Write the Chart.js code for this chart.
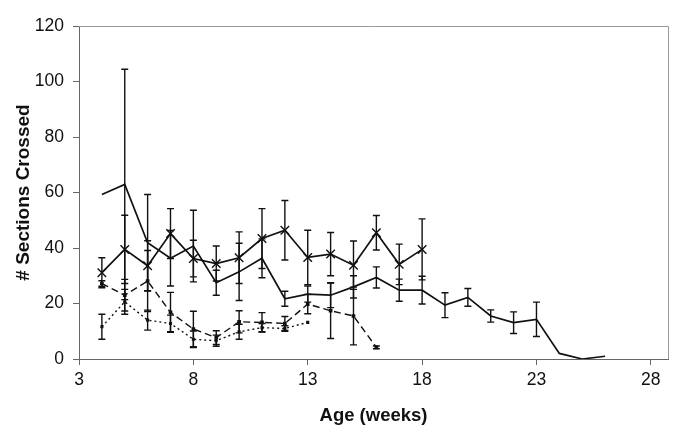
<!DOCTYPE html>
<html>
<head>
<meta charset="utf-8">
<script src="https://cdn.jsdelivr.net/npm/chart.js@4"></script>
<style>
html,body{margin:0;padding:0;background:#fff;}
#wrap{width:685px;height:438px;}
</style>
</head>
<body>
<div id="wrap"><canvas id="c" width="685" height="438"></canvas></div>
<script>
// ---- data ----
const xTickValues = [3, 8, 13, 18, 23, 28];

const weeksSolid = [4,5,6,7,8,9,10,11,12,13,14,15,16,17,18,19,20,21,22,23,24,25,26];
const solidMean  = [59.3,62.9,41.9,36.3,40.7,27.5,31.4,36.3,21.7,23.4,23.0,26.0,29.4,24.8,24.8,19.4,22.2,15.5,13.1,14.3,2.0,0.0,1.0];
const solidErr   = [0,41.5,17.4,10.0,12.9,4.5,10.3,7.0,2.7,2.9,4.5,4.0,3.8,4.0,5.0,4.5,3.2,2.2,3.9,6.2,0,0,0];

const weeksCross = [4,5,6,7,8,9,10,11,12,13,14,15,16,17,18];
const crossMean  = [31.1,39.5,33.6,45.2,36.2,34.4,36.5,43.4,46.4,36.6,37.8,33.8,45.5,34.1,39.5];
const crossErr   = [5.4,12.3,9.0,9.0,6.6,6.3,9.3,10.8,10.7,9.8,7.8,8.7,6.2,7.3,11.0];

const weeksDash = [4,5,6,7,8,9,10,11,12,13,14,15,16];
const dashMean  = [27.2,23.0,28.1,16.8,10.8,7.7,13.4,13.2,12.8,19.8,17.4,15.5,4.2];
const dashErr   = [1.0,5.7,11.0,7.2,6.4,2.5,4.0,3.5,2.5,3.5,10.0,10.4,0.5];

const weeksDot = [4,5,6,7,8,9,10,11,12,13];
const dotMean  = [11.6,20.6,14.0,12.8,7.1,6.6,9.8,11.3,11.0,13.2];
const dotErr   = [4.5,4.5,3.6,3.0,3.0,2.0,2.7,1.5,1.0,0];

function pts(xs, ys){ return xs.map((x,i)=>({x:x, y:ys[i]})); }

const errorBars = {
  id: 'errorBars',
  beforeDatasetsDraw(chart){
    const ctx = chart.ctx, xs = chart.scales.x, ys = chart.scales.y;
    ctx.save();
    ctx.strokeStyle = '#111';
    ctx.lineWidth = 1.4;
    chart.data.datasets.forEach(ds=>{
      if(!ds.err) return;
      ds.data.forEach((p,i)=>{
        const e = ds.err[i];
        if(!e) return;
        const px = xs.getPixelForValue(p.x);
        const top = ys.getPixelForValue(p.y + e);
        const bot = ys.getPixelForValue(Math.max(p.y - e, 0));
        ctx.beginPath();
        ctx.moveTo(px, top); ctx.lineTo(px, bot);
        ctx.moveTo(px-3.5, top); ctx.lineTo(px+3.5, top);
        ctx.moveTo(px-3.5, bot); ctx.lineTo(px+3.5, bot);
        ctx.stroke();
      });
    });
    ctx.restore();
  }
};

const frame = {
  id: 'frame',
  afterDraw(chart){
    const a = chart.chartArea, ctx = chart.ctx;
    ctx.save();
    ctx.strokeStyle = '#9a9a9a';
    ctx.lineWidth = 1;
    ctx.beginPath();
    ctx.moveTo(a.left, a.top+0.5); ctx.lineTo(a.right+0.5, a.top+0.5);
    ctx.lineTo(a.right+0.5, a.bottom);
    ctx.stroke();
    ctx.restore();
  }
};

const font = "'Liberation Sans', Arial, sans-serif";

new Chart(document.getElementById('c'), {
  type: 'scatter',
  data: {
    datasets: [
      { data: pts(weeksSolid, solidMean), err: solidErr, showLine: true,
        borderColor: '#111', borderWidth: 1.7, pointRadius: 0, tension: 0 },
      { data: pts(weeksCross, crossMean), err: crossErr, showLine: true,
        borderColor: '#111', borderWidth: 1.7, pointStyle: 'crossRot', pointRadius: 6,
        pointBorderColor: '#111', pointBorderWidth: 1.4, tension: 0 },
      { data: pts(weeksDash, dashMean), err: dashErr, showLine: true,
        borderColor: '#111', borderWidth: 1.4, borderDash: [7,4], pointStyle: 'rect',
        pointRadius: 1.6, pointBackgroundColor: '#111', pointBorderColor: '#111', tension: 0 },
      { data: pts(weeksDot, dotMean), err: dotErr, showLine: true,
        borderColor: '#111', borderWidth: 1.4, borderDash: [2,3], pointStyle: 'rect',
        pointRadius: 1.2, pointBackgroundColor: '#111', pointBorderColor: '#111', tension: 0 }
    ]
  },
  options: {
    responsive: false,
    animation: false,
    events: [],
    layout: { padding: { left: 0, right: 17, top: 26, bottom: 0 } },
    plugins: { legend: { display: false }, tooltip: { enabled: false } },
    scales: {
      x: {
        type: 'linear', min: 3, max: 28.75,
        afterBuildTicks(scale){ scale.ticks = xTickValues.map(v=>({value:v})); },
        afterFit(scale){ scale.height = 79; },
        grid: { drawOnChartArea: false, drawTicks: true, tickLength: 6, color: '#666' },
        border: { display: true, color: '#666', width: 1 },
        ticks: { color: '#111', font: { family: font, size: 17.5 }, padding: 5, maxRotation: 0 },
        title: { display: true, text: 'Age (weeks)', color: '#111',
                 font: { family: font, size: 18.5, weight: 'bold' }, padding: { top: 0, bottom: 11 } }
      },
      y: {
        min: 0, max: 120,
        ticks: { stepSize: 20, color: '#111', font: { family: font, size: 17.5 }, padding: 9 },
        afterFit(scale){ scale.width = 79; },
        grid: { drawOnChartArea: false, drawTicks: true, tickLength: 6, color: '#666' },
        border: { display: true, color: '#666', width: 1 },
        title: { display: true, text: '# Sections Crossed', color: '#111',
                 font: { family: font, size: 19, weight: 'bold' }, padding: { top: 12, bottom: 0 } }
      }
    }
  },
  plugins: [errorBars, frame]
});
</script>
</body>
</html>
